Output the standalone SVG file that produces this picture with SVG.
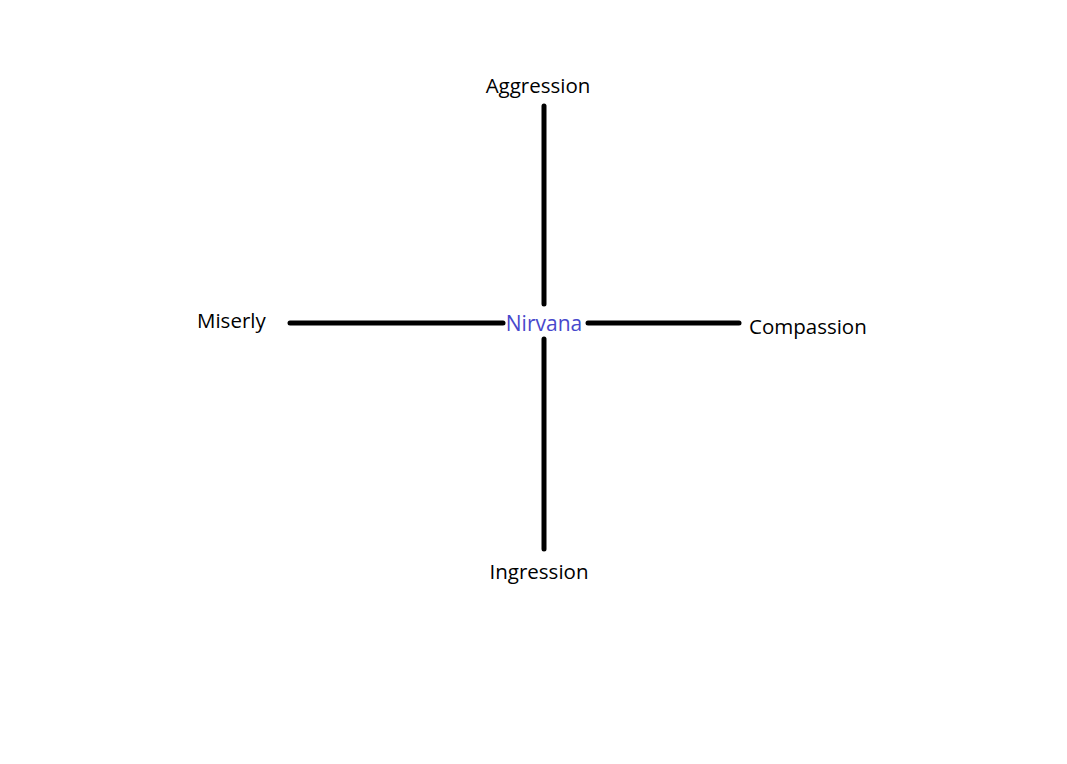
<svg xmlns="http://www.w3.org/2000/svg" width="1067" height="764" viewBox="0 0 1067 764">
<style>
text{font-family:"Open Sans","Noto Sans","Liberation Sans",sans-serif;font-size:20.5px;fill:#000}
.c{stroke:#000;stroke-width:5;stroke-linecap:round;fill:none}
</style>
<rect width="1067" height="764" fill="#fff"/>
<g id="connectors">
<line class="c" x1="544" y1="106" x2="544" y2="304"/>
<line class="c" x1="544" y1="339" x2="544" y2="549"/>
<line class="c" x1="290" y1="323" x2="503" y2="323"/>
<line class="c" x1="588" y1="323" x2="739" y2="323"/>
</g>
<g id="aggression"><text x="538" y="93" text-anchor="middle">Aggression</text></g>
<g id="miserly"><text x="197" y="328">Miserly</text></g>
<g id="nirvana"><text x="544" y="331" text-anchor="middle" style="fill:#4848cc;font-size:21px">Nirvana</text></g>
<g id="compassion"><text x="749" y="334">Compassion</text></g>
<g id="ingression"><text x="539" y="579" text-anchor="middle">Ingression</text></g>
</svg>
